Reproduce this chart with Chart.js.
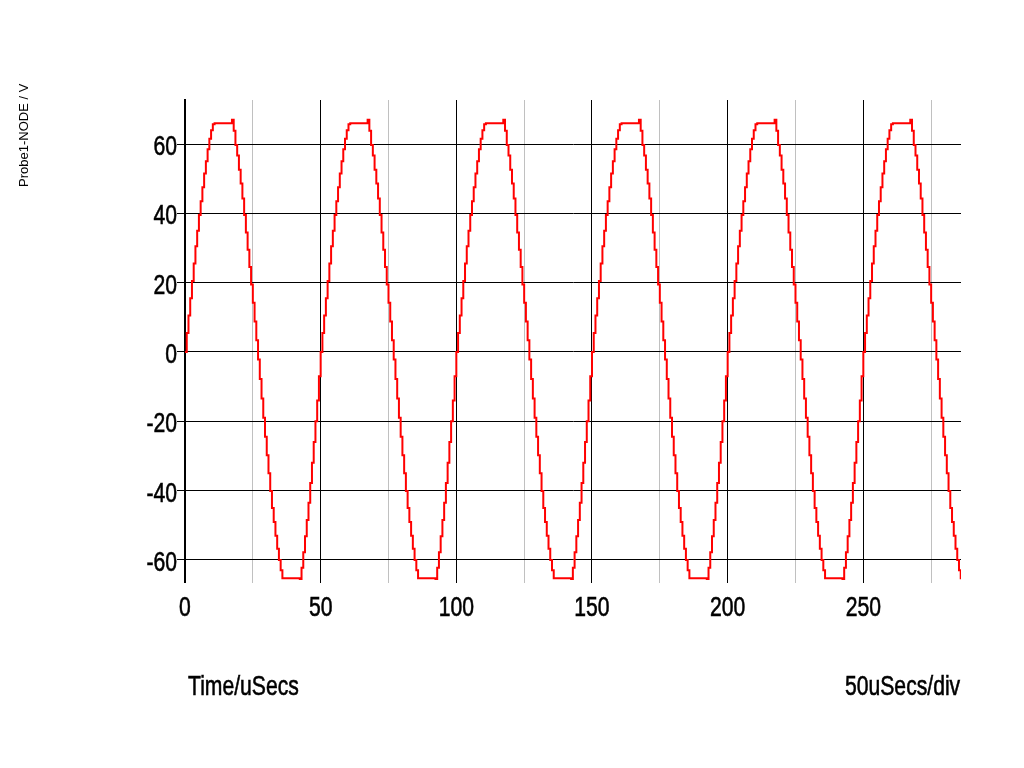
<!DOCTYPE html>
<html>
<head>
<meta charset="utf-8">
<script src="https://cdn.jsdelivr.net/npm/chart.js@4.4.1/dist/chart.umd.min.js"></script>
<style>
html, body { margin: 0; padding: 0; background: #ffffff; }
#wrap { width: 1024px; height: 768px; position: relative; }
</style>
</head>
<body>
<div id="wrap"><canvas id="c" width="1024" height="768"></canvas></div>
<script>
// ---- data (volts, one sample every sampleStepUs microseconds) ----
const sampleStepUs = 50 / 78;

const cycle1Volts = [0, 5.5, 10.5, 15.5, 20.5, 25.5, 30.5, 35, 39.5, 43.5, 47.5, 51.5, 55, 58.5, 61.5, 64, 65.7,
  66, 66, 66, 66, 66, 66, 66, 66, 66, 66, 67,
  63.8, 59.7, 56.7, 52.6, 48.6, 44.3, 39.5, 34.5, 29.5, 24.5, 19.5, 14.2, 8.8, 3.4, -2.2, -7.8, -13.4, -19,
  -24.5, -29.8, -35, -40.1, -45, -49.1, -53, -56.8, -60, -63,
  -65.3, -65.3, -65.3, -65.3, -65.3, -65.3, -65.3, -65.3, -65.3, -65.3, -66.5,
  -62.3, -57.8, -53.2, -48.5, -43.5, -37.8, -32, -26, -20, -14, -7];
const cycle2Volts = [0, 5.5, 10.5, 15.5, 20.5, 25.5, 30.5, 35, 39.5, 43.5, 47.5, 51.5, 55, 58.5, 61.5, 64, 65.7,
  66, 66, 66, 66, 66, 66, 66, 66, 66, 66, 67,
  63.8, 59.7, 56.7, 52.6, 48.6, 44.3, 39.5, 34.5, 29.5, 24.5, 19.5, 14.2, 8.8, 3.4, -2.2, -7.8, -13.4, -19,
  -24.5, -29.8, -35, -40.1, -45, -49.1, -53, -56.8, -60, -63,
  -65.3, -65.3, -65.3, -65.3, -65.3, -65.3, -65.3, -65.3, -65.3, -65.3, -66.5,
  -62.3, -57.8, -53.2, -48.5, -43.5, -37.8, -32, -26, -20, -14, -7];
const cycle3Volts = [0, 5.5, 10.5, 15.5, 20.5, 25.5, 30.5, 35, 39.5, 43.5, 47.5, 51.5, 55, 58.5, 61.5, 64, 65.7,
  66, 66, 66, 66, 66, 66, 66, 66, 66, 66, 67,
  63.8, 59.7, 56.7, 52.6, 48.6, 44.3, 39.5, 34.5, 29.5, 24.5, 19.5, 14.2, 8.8, 3.4, -2.2, -7.8, -13.4, -19,
  -24.5, -29.8, -35, -40.1, -45, -49.1, -53, -56.8, -60, -63,
  -65.3, -65.3, -65.3, -65.3, -65.3, -65.3, -65.3, -65.3, -65.3, -65.3, -66.5,
  -62.3, -57.8, -53.2, -48.5, -43.5, -37.8, -32, -26, -20, -14, -7];
const cycle4Volts = [0, 5.5, 10.5, 15.5, 20.5, 25.5, 30.5, 35, 39.5, 43.5, 47.5, 51.5, 55, 58.5, 61.5, 64, 65.7,
  66, 66, 66, 66, 66, 66, 66, 66, 66, 66, 67,
  63.8, 59.7, 56.7, 52.6, 48.6, 44.3, 39.5, 34.5, 29.5, 24.5, 19.5, 14.2, 8.8, 3.4, -2.2, -7.8, -13.4, -19,
  -24.5, -29.8, -35, -40.1, -45, -49.1, -53, -56.8, -60, -63,
  -65.3, -65.3, -65.3, -65.3, -65.3, -65.3, -65.3, -65.3, -65.3, -65.3, -66.5,
  -62.3, -57.8, -53.2, -48.5, -43.5, -37.8, -32, -26, -20, -14, -7];
const cycle5Volts = [0, 5.5, 10.5, 15.5, 20.5, 25.5, 30.5, 35, 39.5, 43.5, 47.5, 51.5, 55, 58.5, 61.5, 64, 65.7,
  66, 66, 66, 66, 66, 66, 66, 66, 66, 66, 67,
  63.8, 59.7, 56.7, 52.6, 48.6, 44.3, 39.5, 34.5, 29.5, 24.5, 19.5, 14.2, 8.8, 3.4, -2.2, -7.8, -13.4, -19,
  -24.5, -29.8, -35, -40.1, -45, -49.1, -53, -56.8, -60, -63,
  -65.3, -65.3, -65.3, -65.3, -65.3, -65.3, -65.3, -65.3, -65.3, -65.3, -66.5,
  -62.3, -57.8, -53.2, -48.5, -43.5, -37.8, -32, -26, -20, -14, -7];
const cycle6Volts = [0, 5.5, 10.5, 15.5, 20.5, 25.5, 30.5, 35, 39.5, 43.5, 47.5, 51.5, 55, 58.5, 61.5, 64, 65.7,
  66, 66, 66, 66, 66, 66, 66, 66, 66, 66, 67,
  63.8, 59.7, 56.7, 52.6, 48.6, 44.3, 39.5, 34.5, 29.5, 24.5, 19.5, 14.2, 8.8, 3.4, -2.2, -7.8, -13.4, -19,
  -24.5, -29.8, -35, -40.1, -45, -49.1, -53, -56.8, -60, -63,
  -65.3, -65.3];

const xMajorTicks = [0, 50, 100, 150, 200, 250];
const xMinorTicks = [25, 75, 125, 175, 225, 275];
const yTicks = [-60, -40, -20, 0, 20, 40, 60];
const xRange = [0, 286];
const yRange = [-65.8, 72.7];

const seriesLabel = 'Probe1-NODE / V';
const xTitle = 'Time/uSecs';
const xScaleNote = '50uSecs/div';

// ---- build chart ----
const volts = [].concat(cycle1Volts, cycle2Volts, cycle3Volts, cycle4Volts, cycle5Volts, cycle6Volts);
const points = volts.map((v, i) => ({ x: i * sampleStepUs, y: v }));

const SANS = '"Liberation Sans", Arial, sans-serif';
const BIG = '28px ' + SANS;
const SQUEEZE = 0.755;

function narrowText(ctx, text, x, y, align) {
  ctx.save();
  ctx.translate(x, y);
  ctx.scale(SQUEEZE, 1);
  ctx.textAlign = align;
  ctx.lineWidth = 0.6;
  ctx.strokeStyle = '#000000';
  ctx.fillText(text, 0, 0);
  ctx.strokeText(text, 0, 0);
  ctx.restore();
}

const textPlugin = {
  id: 'textPlugin',
  afterDraw(chart) {
    const ctx = chart.ctx;
    const xs = chart.scales.x, ys = chart.scales.y;
    ctx.save();
    ctx.fillStyle = '#000000';
    ctx.font = BIG;
    ctx.textBaseline = 'alphabetic';
    // tick labels, placed through the library's scales
    xMajorTicks.forEach(v => narrowText(ctx, String(v), xs.getPixelForValue(v), 616, 'center'));
    yTicks.forEach(v => narrowText(ctx, String(v), 177, ys.getPixelForValue(v) + 11, 'right'));
    // axis captions
    narrowText(ctx, xTitle, 188, 695, 'left');
    ctx.save();
    ctx.beginPath();
    ctx.rect(0, 0, chart.chartArea.right, 768);
    ctx.clip();
    narrowText(ctx, xScaleNote, 845, 695, 'left');
    ctx.restore();
    // y caption
    ctx.translate(28, 187);
    ctx.rotate(-Math.PI / 2);
    ctx.font = '13px ' + SANS;
    ctx.textAlign = 'left';
    ctx.fillText(seriesLabel, 0, 0);
    ctx.restore();
  }
};

new Chart(document.getElementById('c'), {
  type: 'line',
  data: {
    datasets: [{
      label: seriesLabel,
      data: points,
      borderColor: '#ff0000',
      borderWidth: 2,
      stepped: true,
      pointRadius: 0,
      fill: false,
      tension: 0
    }]
  },
  options: {
    responsive: false,
    animation: false,
    events: [],
    layout: { padding: { top: 100, right: 63, left: 0, bottom: 0 } },
    plugins: { legend: { display: false }, tooltip: { enabled: false }, title: { display: false } },
    scales: {
      x: {
        type: 'linear',
        min: xRange[0],
        max: xRange[1],
        afterBuildTicks(scale) {
          scale.ticks = xMajorTicks.concat(xMinorTicks).sort((a, b) => a - b).map(v => ({ value: v }));
        },
        afterFit(scale) { scale.height = 188; },
        border: { display: false },
        grid: {
          drawTicks: true,
          tickLength: 3,
          color: (c) => xMajorTicks.includes(c.tick && c.tick.value) ? '#000000' : '#c0c0c0',
          lineWidth: (c) => (c.tick && c.tick.value === 0) ? 2 : 1
        },
        ticks: { display: false, autoSkip: false, maxRotation: 0 }
      },
      y: {
        type: 'linear',
        min: yRange[0],
        max: yRange[1],
        afterBuildTicks(scale) {
          scale.ticks = yTicks.map(v => ({ value: v }));
        },
        afterFit(scale) { scale.width = 185; },
        border: { display: true, color: '#000000', width: 2 },
        grid: {
          drawTicks: true,
          tickLength: 8,
          color: '#000000',
          lineWidth: 1
        },
        ticks: { display: false }
      }
    }
  },
  plugins: [textPlugin]
});
</script>
</body>
</html>
